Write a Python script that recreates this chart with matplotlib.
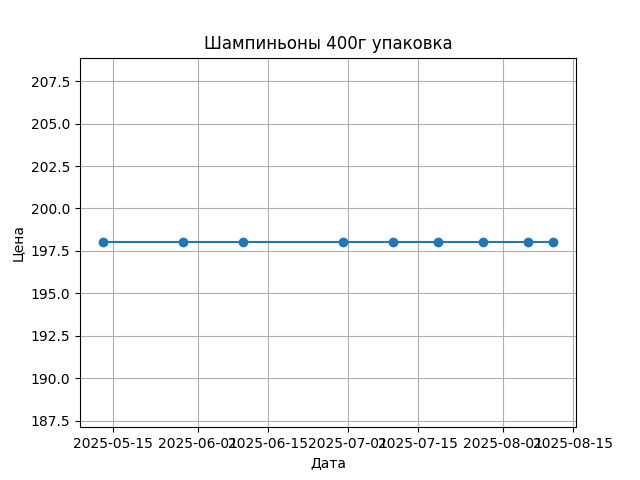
import matplotlib
matplotlib.use("Agg")
import matplotlib.pyplot as plt
import pandas as pd

dates = pd.to_datetime([
    "2025-05-13", "2025-05-29", "2025-06-10", "2025-06-30", "2025-07-10",
    "2025-07-19", "2025-07-28", "2025-08-06", "2025-08-11",
])
prices = [198, 198, 198, 198, 198, 198, 198, 198, 198]

fig, ax = plt.subplots(figsize=(6.4, 4.8), dpi=100)
ax.plot(dates, prices, marker="o")
ax.set_title("Шампиньоны 400г упаковка")
ax.set_xlabel("Дата")
ax.set_ylabel("Цена")
ax.grid(True)

fig.savefig("out.png")
